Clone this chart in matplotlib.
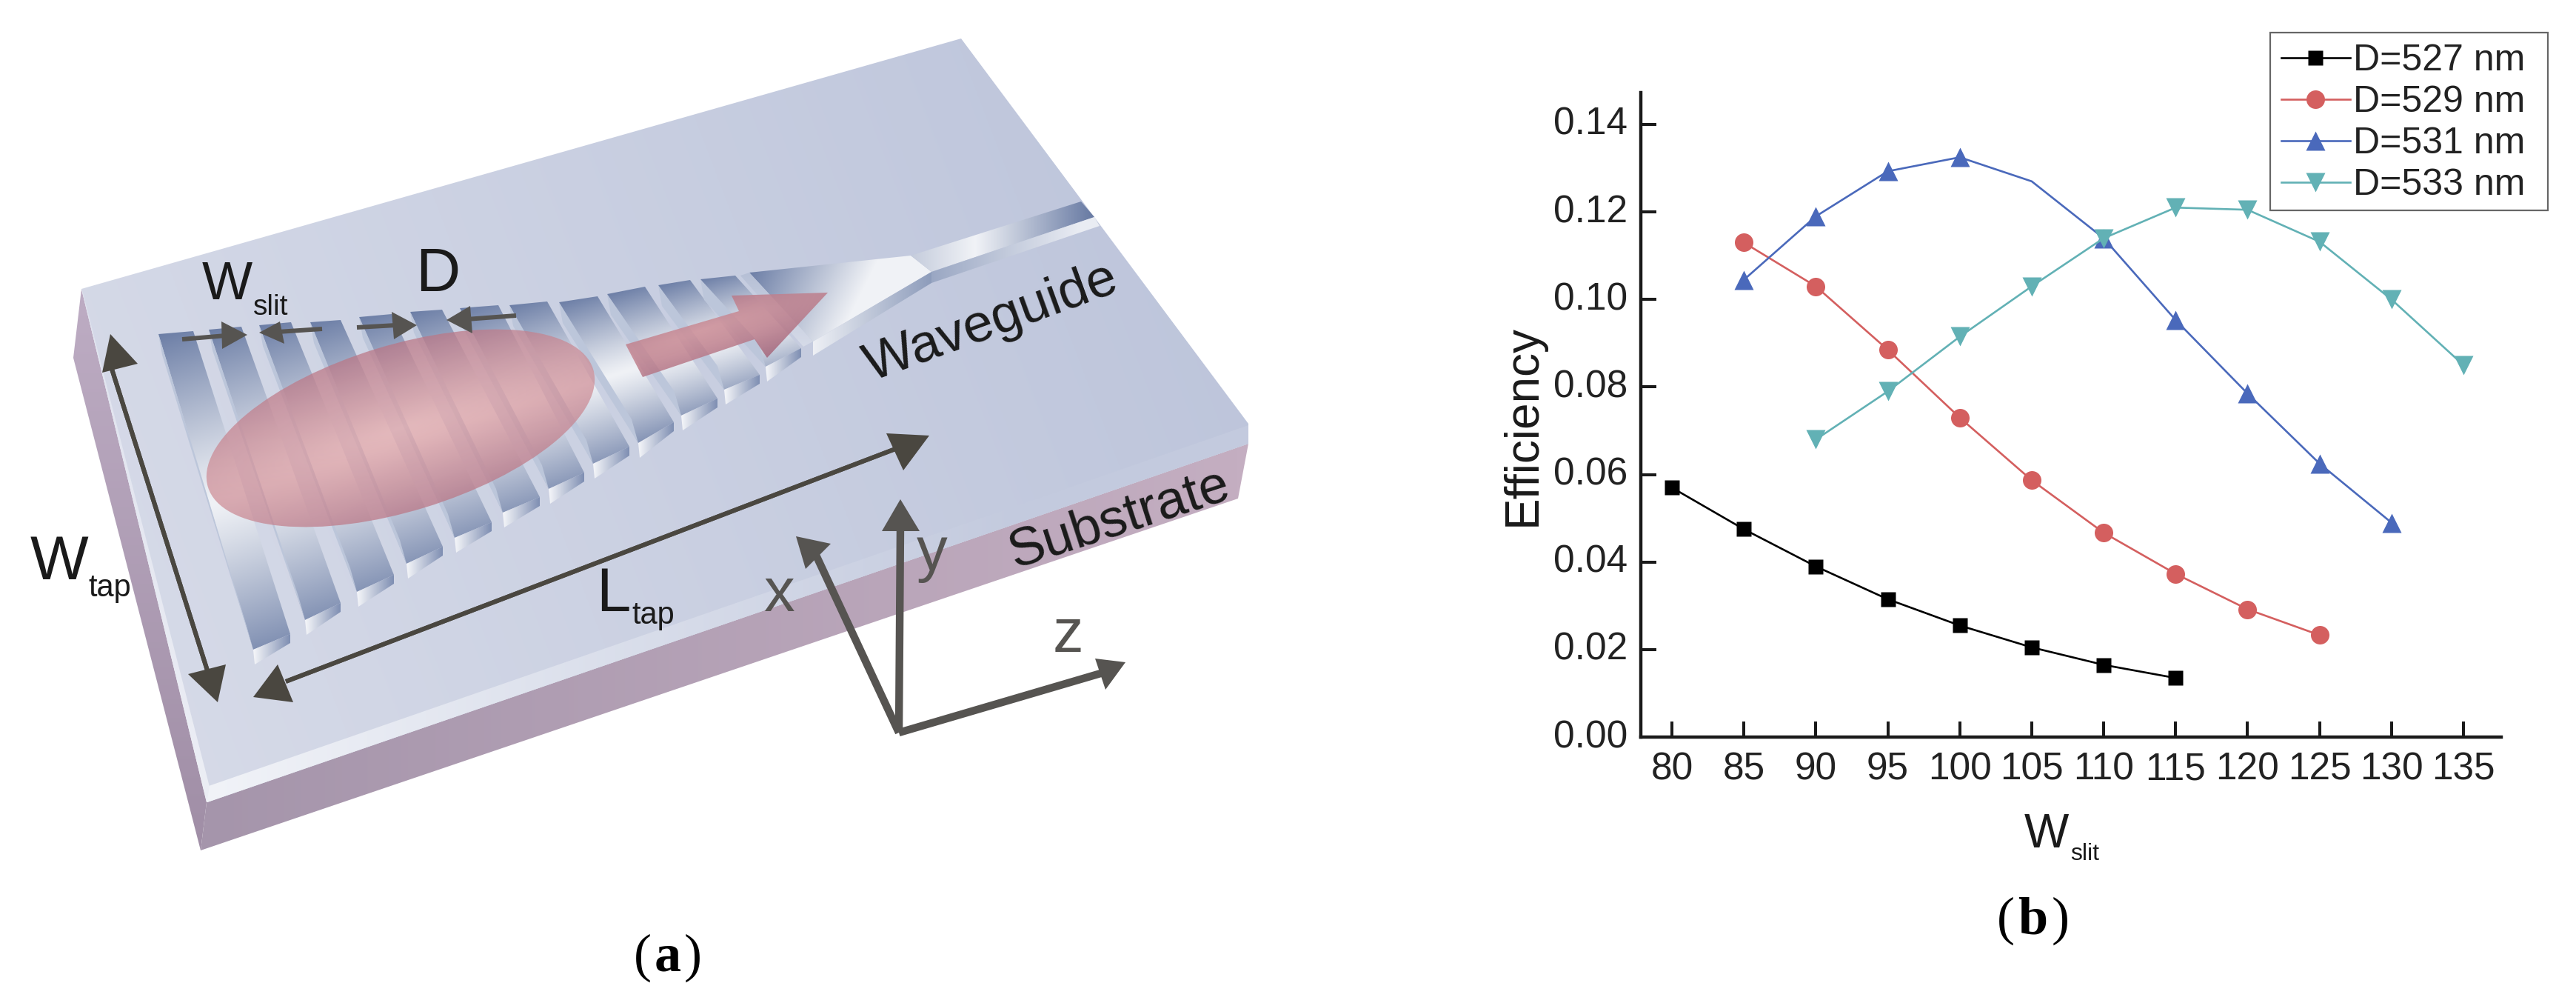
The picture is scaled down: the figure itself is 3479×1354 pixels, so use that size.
import numpy as np
import matplotlib
matplotlib.use("Agg")
import matplotlib.pyplot as plt
from matplotlib.patches import Polygon, Ellipse, Rectangle
from matplotlib.colors import to_rgb
from matplotlib.transforms import ScaledTranslation

plt.rcParams['font.family'] = ['Liberation Sans', 'DejaVu Sans']

# ---- chart data -----
w_527 = [80, 85, 90, 95, 100, 105, 110, 115]
e_527 = [0.057, 0.0475, 0.039, 0.0315, 0.0255, 0.0205, 0.0165, 0.0135]
w_529 = [85, 90, 95, 100, 105, 110, 115, 120, 125]
e_529 = [0.113, 0.103, 0.0885, 0.073, 0.0587, 0.0467, 0.0373, 0.0292, 0.0233]
w_531 = [85, 90, 95, 100, 105, 110, 115, 120, 125, 130]
e_531 = [0.1045, 0.119, 0.1293, 0.1325, 0.127, 0.114, 0.0953, 0.0785, 0.0625, 0.049]
w_533 = [90, 95, 100, 105, 110, 115, 120, 125, 130, 135]
e_533 = [0.068, 0.079, 0.0915, 0.103, 0.114, 0.121, 0.1205, 0.1132, 0.1, 0.085]
x_ticks = list(range(80, 140, 5))
y_ticks = [0.00, 0.02, 0.04, 0.06, 0.08, 0.10, 0.12, 0.14]
labels = ['D=527 nm', 'D=529 nm', 'D=531 nm', 'D=533 nm']

W, H = 3479, 1354
fig = plt.figure(figsize=(W / 100, H / 100), dpi=100, facecolor='white')

# ---- panel (a): schematic in pixel coordinates -----
sk = fig.add_axes([0, 0, 1, 1])
sk.set_xlim(0, W)
sk.set_ylim(H, 0)
sk.axis('off')
sk.set_autoscale_on(False)

DARK = np.array(to_rgb('#6c7ea6'))
LIGHT = np.array(to_rgb('#f0f2f6'))


def shade(poly, field, zorder=2, step=1):
    poly = np.asarray(poly, float)
    x0, y0 = np.floor(poly.min(0)).astype(int)
    x1, y1 = np.ceil(poly.max(0)).astype(int)
    X, Y = np.meshgrid(np.arange(x0, x1 + 1, step) + .5, np.arange(y0, y1 + 1, step) + .5)
    im = sk.imshow(field(X, Y), extent=(x0, x1 + 1, y1 + 1, y0), origin='upper',
                   aspect='auto', zorder=zorder, interpolation='bilinear')
    im.set_clip_path(Polygon(poly, closed=True, transform=sk.transData))
    return im


def lerp(a, b, t):
    a, b = np.array(to_rgb(a)), np.array(to_rgb(b))
    t = np.clip(t, 0, 1)[..., None]
    return a * (1 - t) + b * t


# left face, front face
shade([(110, 390), (99, 483), (271, 1148), (279, 1083)],
      lambda X, Y: lerp('#bdacc3', '#a08ea6', (Y - 400) / 750), 1)
shade([(279, 1083), (1686, 599), (1672, 673), (271, 1148)],
      lambda X, Y: lerp('#a595ab', '#c4aec1', (X - 271) / 1400), 1)
# top surface
top = [(110, 390), (1298, 52), (1686, 572), (1686, 599), (280, 1083)]
shade(top, lambda X, Y: lerp('#d8dce9', '#bbc3da', ((X - 110) / 1576 * .8 + (1083 - Y) / 1030 * .2)), 1, 2)
# bright bevel edge along the front
shade([(279, 1062), (1686, 574), (1686, 599), (280, 1083)],
      lambda X, Y: lerp('#f1f3f8', '#c3cade', (X - 280) / 1100), 2)
shade([(112, 395), (283, 1062), (279, 1083), (110, 390)],
      lambda X, Y: lerp('#dfe2ee', '#eceef5', (Y - 390) / 690), 2)

# axis of the tapered grating: brightest along it
AX0 = np.array([291., 678.])
AX1 = np.array([1185., 393.])


def axis_y(x):
    return AX0[1] + (x - AX0[0]) * (AX1[1] - AX0[1]) / (AX1[0] - AX0[0])


slits = [
    [(214, 451), (261, 447), (392, 856), (342, 877)],
    [(282, 445), (326, 441), (460, 814), (412, 837)],
    [(350, 439), (393, 435), (532, 776), (482, 799)],
    [(419, 435), (460, 432), (598, 738), (549, 761)],
    [(485, 428), (529, 424), (664, 705), (614, 726)],
    [(554, 421), (597, 418), (729, 671), (679, 692)],
    [(621, 416), (673, 412), (789, 638), (741, 660)],
    [(688, 412), (739, 407), (850, 603), (801, 626)],
    [(755, 408), (807, 400), (910, 570), (862, 598)],
    [(820, 397), (871, 387), (969, 538), (920, 561)],
    [(889, 385), (932, 378), (1026, 506), (978, 526)],
    [(946, 377), (993, 372), (1082, 470), (1034, 495)],
]
for s in slits:
    s = np.array(s, float)
    reach = np.abs(s[:, 1] - axis_y(s[:, 0])).max()

    def slit_field(X, Y, reach=reach):
        t = np.clip(np.abs(Y - axis_y(X)) / reach, 0, 1)[..., None] ** 1.15
        return DARK * t + LIGHT * (1 - t)

    shade(s, slit_field, 3)
    tl, tr, br, bl = s
    # inner wall, lighter strip on the left of each slit
    sk.add_patch(Polygon([tl, tl + (5, 28), bl, bl + (-9, -32)], closed=True,
                         fc='#bcc6da', ec='none', zorder=3))
    # lit lip at the near end of the slit
    lip = [bl, br, br + (0, 12), bl + (2, 20)]
    x_a, x_b = bl[0], br[0]
    shade(lip, lambda X, Y, a=x_a, b=x_b: lerp('#f6f7fa', '#7e8eb2', (X - a) / (b - a)), 3)

# tapered section and narrow waveguide
shade([(1012, 368), (1230, 345), (1258, 367), (1098, 461)],
      lambda X, Y: lerp('#6c7ea6', '#f0f2f6', ((X - 1012) + .5 * (Y - 368)) / 165), 3)
shade([(1098, 461), (1258, 367), (1258, 382), (1098, 480)],
      lambda X, Y: lerp('#eef0f5', '#8d9cbb', (X - 1098) / 160), 3)
shade([(1012, 368), (1098, 461), (1085, 468), (1000, 372)],
      lambda X, Y: lerp('#b6c0d6', '#d6dbe8', (Y - 368) / 100), 3)
shade([(1230, 345), (1460, 272), (1478, 293), (1258, 367)],
      lambda X, Y: lerp('#f1f3f7', '#6b7da5', np.abs(X - 1317) / np.where(X < 1317, 260, 155)), 3)
shade([(1258, 367), (1478, 293), (1485, 305), (1258, 382)],
      lambda X, Y: lerp('#9aa7c3', '#e9ecf3', (X - 1258) / 200), 3)


def pink(cx, cy, ang, a, b, alpha=.72, c0='#e3a6a8', c1='#bb7584'):
    def f(X, Y):
        c, s = np.cos(ang), np.sin(ang)
        u = ((X - cx) * c + (Y - cy) * s) / a
        v = (-(X - cx) * s + (Y - cy) * c) / b
        t = np.clip(np.hypot(u * .5, v), 0, 1)
        rgb = lerp(c0, c1, t)
        al = np.full(t.shape + (1,), alpha)
        return np.concatenate([rgb, al], axis=2)
    return f


# beam spot
ell = Ellipse((541, 578), 2 * 272, 2 * 112, angle=-17, transform=sk.transData)
xs = (270, 815, 440, 720)
X, Y = np.meshgrid(np.arange(xs[0], xs[1]) + .5, np.arange(xs[2], xs[3]) + .5)
im = sk.imshow(pink(541, 578, np.radians(-17), 272, 112)(X, Y),
               extent=(xs[0], xs[1], xs[3], xs[2]), aspect='auto', zorder=4)
im.set_clip_path(ell)

# output arrow
arrow = [(845, 465), (998, 420), (988, 399), (1118, 395), (1036, 483), (1019, 458), (868, 509)]
shade(arrow, lambda X, Y: pink(950, 445, np.radians(-18), 190, 62, .85, '#d09098', '#a5677c')(X, Y), 4)

INK = '#4a4740'
GREY = '#565451'


def dim(p0, p1, head, lw=4.3, col=INK):
    sk.plot([p0[0], p1[0]], [p0[1], p1[1]], color=col, lw=lw, solid_capstyle='butt', zorder=6)
    sk.add_patch(Polygon(head, closed=True, fc=col, ec='none', zorder=6))


# W_tap, L_tap
dim((150, 495), (280, 905), [(149, 451), (186, 491), (138, 503)])
dim((150, 495), (280, 905), [(294, 948), (305, 897), (254, 910)])
dim((386, 920), (1225, 600), [(342, 941), (375, 897), (396, 948)])
dim((386, 920), (1225, 600), [(1255, 588), (1197, 585), (1220, 635)])
# W_slit, D
dim((246, 458), (305, 453), [(334, 452), (299, 434), (300, 471)], 4.3, GREY)
dim((375, 448), (435, 444), [(350, 449), (384, 464), (378, 434)], 4.3, GREY)
dim((482, 442), (535, 439), [(563, 439), (529, 421), (532, 458)], 4.3, GREY)
dim((630, 431), (697, 426), [(603, 432), (635, 413), (638, 450)], 4.3, GREY)
# coordinate triad
dim((1214, 989), (1216, 710), [(1216, 674), (1191, 717), (1242, 717)], 7.5, GREY)
dim((1214, 989), (1100, 745), [(1075, 724), (1088, 768), (1122, 734)], 7.5, GREY)
dim((1214, 989), (1490, 908), [(1520, 894), (1479, 889), (1493, 931)], 7.5, GREY)


def label(x, y, s, size, col='#1a1a1a', rot=0, **kw):
    sk.text(x, y, s, fontsize=size, color=col, rotation=rot, ha='center', va='center',
            rotation_mode='anchor', zorder=8, **kw)


label(307, 386, 'W', 52)
label(366, 415, 'slit', 28)
label(591, 371, 'D', 60)
label(1339, 436, 'Waveguide', 52, rot=20)
label(1512, 701, 'Substrate', 52, rot=18)
label(80, 760, 'W', 60)
label(148, 794, 'tap', 30)
label(828, 803, 'L', 60)
label(882, 831, 'tap', 30)
label(1052, 803, 'x', 60, GREY)
label(1259, 748, 'y', 60, GREY)
label(1442, 858, 'z', 60, GREY)

for xp, yp, s, wgt in [(868, 1293, '(', 'normal'), (902, 1293, 'a', 'bold'), (936, 1293, ')', 'normal'),
                       (2709, 1243, '(', 'normal'), (2745, 1243, 'b', 'bold'), (2783, 1243, ')', 'normal')]:
    sk.text(xp, yp, s, fontsize=52, family='Liberation Serif', fontweight=wgt,
            color='black', ha='center', va='center', zorder=8)

# legend frame
sk.add_patch(Rectangle((3066, 44), 375, 240, fc='white', ec='#666666', lw=1.6, zorder=1))

# ---- panel (b): line chart -----
L, R, T, B = 2216, 3378, 125, 995
ax = fig.add_axes([L / W, 1 - B / H, (R - L) / W, (B - T) / H])
ax.patch.set_alpha(0)
px_x = (3327 - 2258) / 55
ax.set_xlim(80 - (2258 - L) / px_x, 135 + (R - 3327) / px_x)
ax.set_ylim(0, 0.14 * (B - T) / (995 - 168))
lw = 1.9
ax.plot(w_527, e_527, '-s', color='black', lw=lw, ms=14.5, mec='none', label=labels[0])
ax.plot(w_529, e_529, '-o', color='#d45f5f', lw=lw, ms=18, mec='none', label=labels[1])
ax.plot(w_531, e_531, '-^', color='#4a69bb', lw=lw, ms=19, mec='none', label=labels[2],
        markevery=[0, 1, 2, 3, 5, 6, 7, 8, 9])
ax.plot(w_533, e_533, '-v', color='#62b1b5', lw=lw, ms=19, mec='none', label=labels[3])
ax.spines['top'].set_visible(False)
ax.spines['right'].set_visible(False)
for sp in ('left', 'bottom'):
    ax.spines[sp].set_linewidth(3.2)
    ax.spines[sp].set_color('#1a1a1a')
ax.set_xticks(x_ticks)
ax.set_yticks(y_ticks)
ax.set_yticklabels([f'{v:.2f}' for v in y_ticks])
ax.tick_params(axis='both', direction='in', length=15, width=2.9, labelsize=37,
               color='#1a1a1a', labelcolor='#222222')
ax.tick_params(axis='x', pad=14)
ax.tick_params(axis='y', pad=13)
shift = ScaledTranslation(0, 5 / 100, fig.dpi_scale_trans)
for t in ax.get_yticklabels():
    t.set_transform(t.get_transform() + shift)
fig.text(2057 / W, 1 - 574 / H, 'Efficiency', rotation=90, fontsize=46, color='#1a1a1a',
         ha='center', va='center')
fig.text(2764 / W, 1 - 1127 / H, 'W', fontsize=46, color='#1a1a1a', ha='center', va='center')
fig.text(2816 / W, 1 - 1153 / H, 'slit', fontsize=23, color='#1a1a1a', ha='center', va='center')

leg = ax.legend(loc='upper left', bbox_to_anchor=(3066 / W, 1 - 44 / H),
                bbox_transform=fig.transFigure, borderaxespad=0, fontsize=36,
                frameon=False,
                handlelength=1.85, handletextpad=0.1, labelspacing=0.2, borderpad=0.3,
                labelcolor='#222222')

fig.savefig('out.png', dpi=100, facecolor='white')
